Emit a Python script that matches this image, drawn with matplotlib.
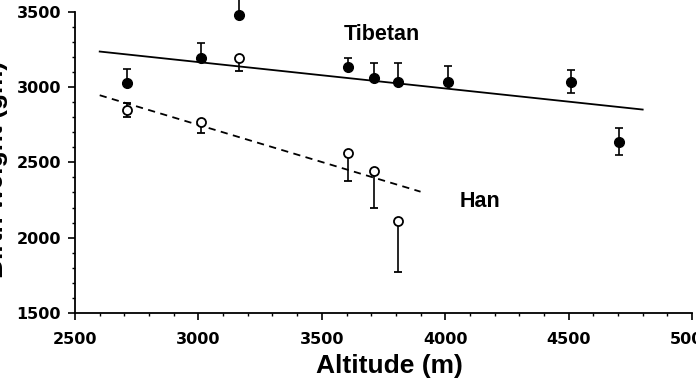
import matplotlib.pyplot as plt
import numpy as np
from matplotlib.ticker import FixedLocator

# Tibetan births (filled circles)
alt_tib = [2710, 3010, 3165, 3605, 3710, 3810, 4010, 4510, 4705]
bw_tib = [3025, 3190, 3475, 3130, 3060, 3035, 3030, 3030, 2635]
tib_err_up = [95, 100, 130, 60, 100, 125, 110, 80, 95]
tib_err_dn = [0, 0, 0, 0, 0, 0, 0, 70, 85]

# Han births (open circles)
alt_han = [2710, 3010, 3165, 3605, 3710, 3810]
bw_han = [2850, 2770, 3195, 2560, 2440, 2110]
han_err_up = [45, 0, 0, 0, 0, 0]
han_err_dn = [50, 75, 90, 185, 240, 340]

# regression lines (end points)
fit_tib_x = [2600, 4800]
fit_tib_y = [3235, 2850]
fit_han_x = [2600, 3900]
fit_han_y = [2945, 2305]

xticks = [2500, 3000, 3500, 4000, 4500, 5000]
yticks = [1500, 2000, 2500, 3000, 3500]

fig = plt.figure(figsize=(6.96, 3.85), dpi=100)
# the axes run past the top of the figure, like the cropped original
ax = fig.add_axes([0.1078, 0.187, 0.8865, 0.9786])

ax.plot(fit_tib_x, fit_tib_y, color='black', lw=1.3)
ax.plot(fit_han_x, fit_han_y, color='black', lw=1.3, linestyle=(0, (4, 3)))

ax.errorbar(alt_tib, bw_tib, yerr=[tib_err_dn, tib_err_up], fmt='o',
            color='black', ms=7, capsize=3.2, elinewidth=1.2, capthick=1.2,
            zorder=3)
ax.errorbar(alt_han, bw_han, yerr=[han_err_dn, han_err_up], fmt='o',
            color='black', mfc='white', mec='black', mew=1.3, ms=6.5,
            capsize=3.2, elinewidth=1.2, capthick=1.2, zorder=4)

ax.text(3745, 3345, 'Tibetan', fontsize=15.5, fontweight='bold',
        family='Liberation Sans', ha='center', va='center')
ax.text(4140, 2237, 'Han', fontsize=15.5, fontweight='bold',
        family='Liberation Sans', ha='center', va='center')

ax.set_xlim(2500, 5000)
ax.set_ylim(1500, 4000)
ax.set_xticks(xticks)
ax.set_yticks(yticks)
ax.xaxis.set_minor_locator(FixedLocator(np.arange(2500, 5001, 100)))
ax.yaxis.set_minor_locator(FixedLocator(np.arange(1500, 3501, 100)))
ax.spines['top'].set_visible(False)
ax.spines['right'].set_visible(False)
ax.spines['left'].set_bounds(1500, 3500)
ax.spines['left'].set_linewidth(1.3)
ax.spines['bottom'].set_linewidth(1.3)
ax.tick_params(which='major', direction='out', length=5, width=1.2,
               labelsize=11.5)
ax.tick_params(which='minor', direction='out', length=2.5, width=1)
ax.tick_params(axis='x', which='major', pad=9)
ax.tick_params(axis='y', which='major', pad=5)
for lab in ax.get_xticklabels() + ax.get_yticklabels():
    lab.set_fontweight('bold')
    lab.set_family('DejaVu Sans')

ax.set_xlabel('Altitude (m)', fontsize=19, fontweight='bold',
              family='Liberation Sans')
ax.xaxis.set_label_coords(0.51, -0.108)

# y label is mostly cut off at the left edge in the original
fig.text(0.011, 0.56, 'Birth weight (gm)', rotation=90, fontsize=19,
         fontweight='bold', family='Liberation Sans', ha='right', va='center')

fig.savefig('out.png', dpi=100)
